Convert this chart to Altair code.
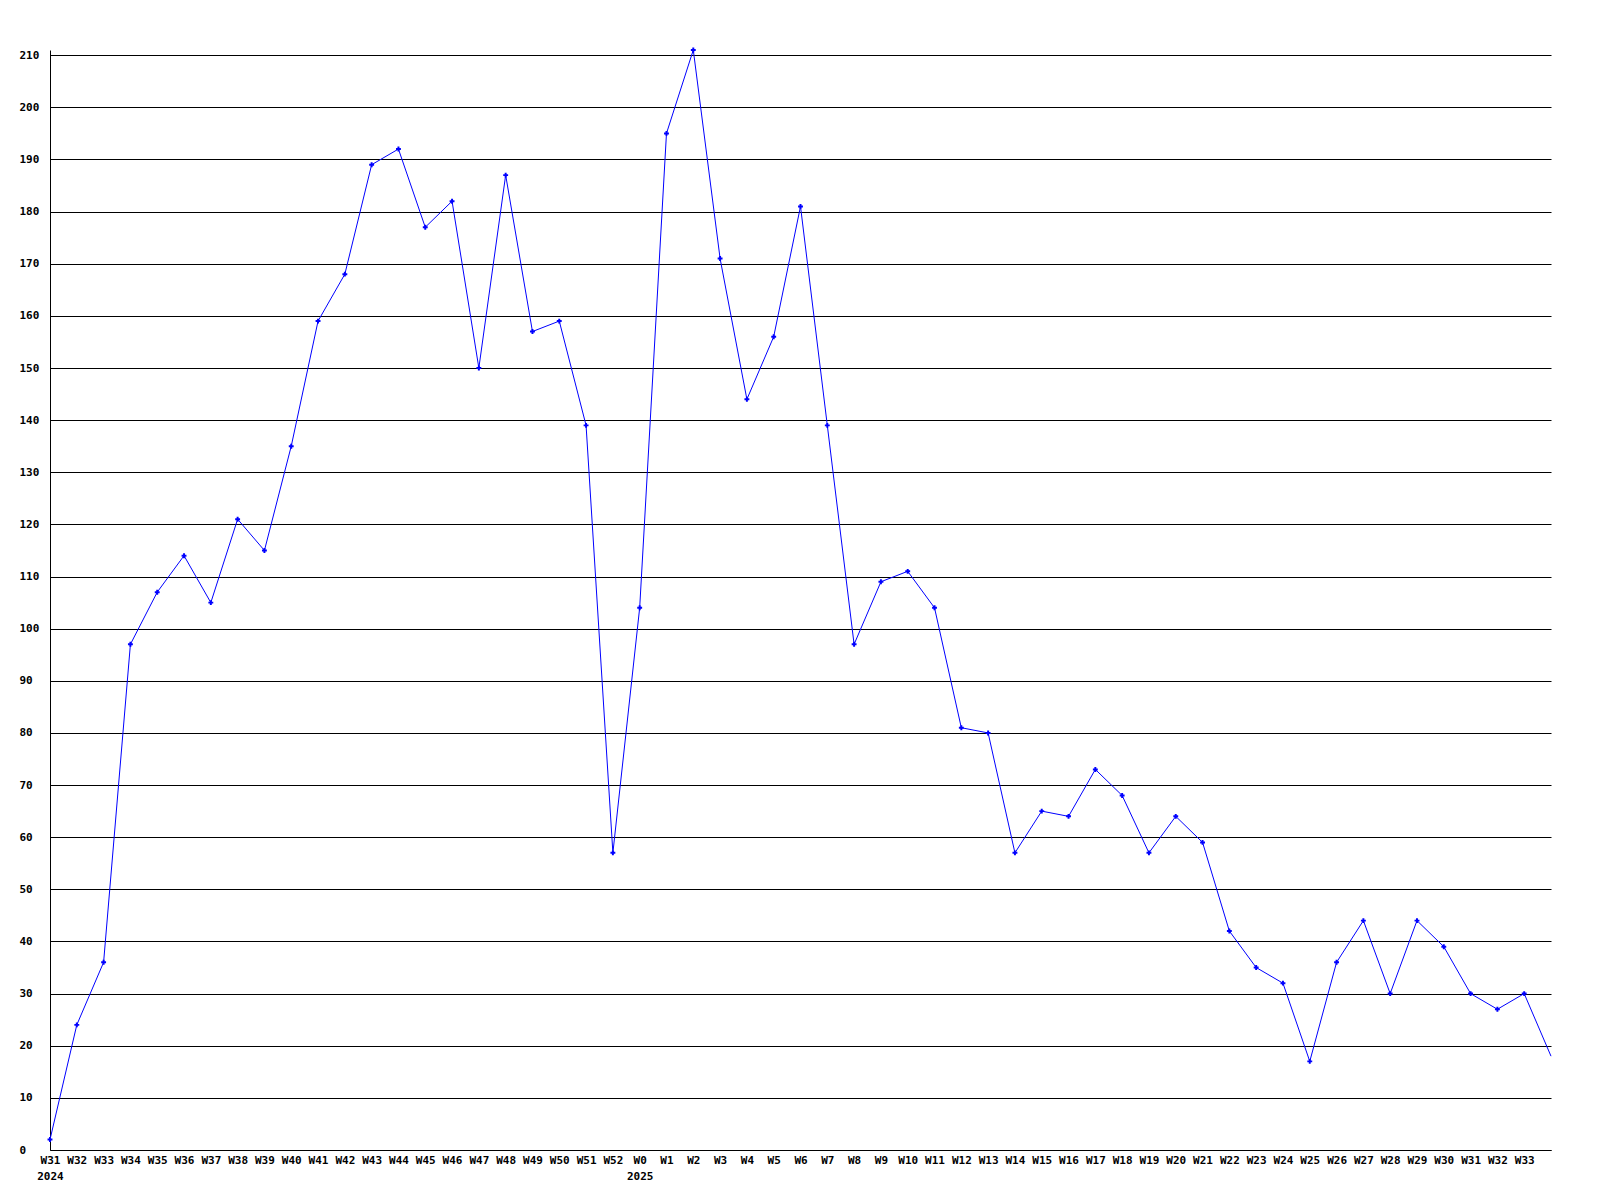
import altair as alt
import pandas as pd

weeks = ["W31", "W32", "W33", "W34", "W35", "W36", "W37", "W38", "W39", "W40",
         "W41", "W42", "W43", "W44", "W45", "W46", "W47", "W48", "W49", "W50",
         "W51", "W52", "W0", "W1", "W2", "W3", "W4", "W5", "W6", "W7",
         "W8", "W9", "W10", "W11", "W12", "W13", "W14", "W15", "W16", "W17",
         "W18", "W19", "W20", "W21", "W22", "W23", "W24", "W25", "W26", "W27",
         "W28", "W29", "W30", "W31", "W32", "W33", "W34"]
years = ["2024"] + [""] * 21 + ["2025"] + [""] * 34
values = [2, 24, 36, 97, 107, 114, 105, 121, 115, 135,
          159, 168, 189, 192, 177, 182, 150, 187, 157, 159,
          139, 57, 104, 195, 211, 171, 144, 156, 181, 139,
          97, 109, 111, 104, 81, 80, 57, 65, 64, 73,
          68, 57, 64, 59, 42, 35, 32, 17, 36, 44,
          30, 44, 39, 30, 27, 30, 18]
y_ticks = list(range(0, 211, 10))

n = len(values)
df = pd.DataFrame({"idx": list(range(n)), "week": weeks, "value": values})

wk = alt.param(name="wk", value=weeks)
yr = alt.param(name="yr", value=years)

FONT = "DejaVu Sans Mono"

x_enc = alt.X(
    "idx:Q",
    scale=alt.Scale(domain=[0, n - 1], nice=False, zero=False),
    axis=alt.Axis(
        values=list(range(n - 1)),
        labelExpr="[wk[datum.value], yr[datum.value]]",
        title=None, grid=False, ticks=False, tickSize=0,
        labelPadding=4, labelFlush=False, labelOverlap=False, labelBound=False,
        labelFont=FONT, labelFontWeight="bold", labelFontSize=11,
        labelColor="black", labelLineHeight=16, labelBaseline="top",
        domainColor="black", domainWidth=1,
    ),
)
y_enc = alt.Y(
    "value:Q",
    scale=alt.Scale(domain=[0, 211], nice=False),
    axis=alt.Axis(
        values=y_ticks, title=None, grid=True, gridColor="black",
        gridWidth=1, gridOpacity=1, ticks=False, tickSize=0,
        labelAlign="left", labelPadding=31, labelBaseline="middle",
        labelFont=FONT, labelFontWeight="bold", labelFontSize=11,
        labelColor="black", domainColor="black", domainWidth=1,
        labelFlush=False, labelOverlap=False,
    ),
)

line = alt.Chart(df).mark_line(color="#0000ff", strokeWidth=1).encode(x=x_enc, y=y_enc)
pts = alt.Chart(df).transform_filter(alt.datum.idx < n - 1).mark_point(
    shape="cross", filled=True, color="#0000ff", size=24, opacity=1
).encode(x=x_enc, y=y_enc)

chart = (
    alt.layer(line, pts)
    .add_params(wk, yr)
    .properties(
        width=1501, height=1100,
        autosize=alt.AutoSizeParams(type="none"),
        padding={"left": 42, "top": 42, "right": 30, "bottom": 34},
        view=alt.ViewBackground(stroke="transparent", strokeWidth=0),
    )
    .configure_view(strokeWidth=0, stroke="transparent")
    .configure_axis(labelOverlap=False)
    .configure(background="white")
)

chart.save("out.html", embed_options={"renderer": "svg", "actions": False})
